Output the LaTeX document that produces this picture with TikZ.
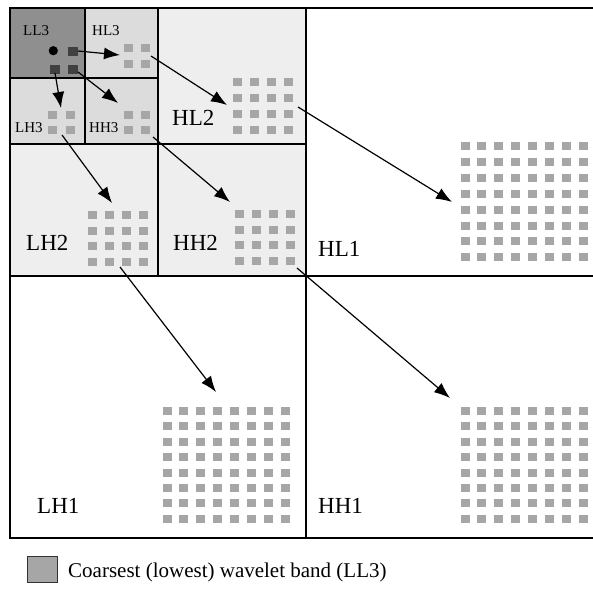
\documentclass[tikz,border=0pt]{standalone}
\usepackage{fontspec}
\setmainfont{Liberation Serif}
\usetikzlibrary{arrows.meta}

\definecolor{bandthree}{HTML}{8F8F8F}
\definecolor{detailthree}{HTML}{DCDCDC}
\definecolor{detailtwo}{HTML}{EEEEEE}
\definecolor{coef}{HTML}{A6A6A6}
\definecolor{darkcoef}{HTML}{404040}

\tikzset{
  frame/.style={draw=black, line width=1.4pt},
  link/.style={draw=black, line width=1.2pt, -{Latex[length=16pt,width=12pt]}},
  bigtxt/.style={font=\fontsize{23}{26}\selectfont, inner sep=0pt, anchor=base west},
  smalltxt/.style={font=\fontsize{15}{17}\selectfont, inner sep=0pt, anchor=base west},
  legendtxt/.style={font=\fontsize{21}{24}\selectfont, inner sep=0pt, anchor=base west},
}

% grid of coefficient squares: first centre (#1,#2), steps #3,#4, count #5 x #6
\newcommand\coefgrid[6]{%
  \foreach \ci in {1,...,#5}{%
    \foreach \cj in {1,...,#6}{%
      \fill[coef] ({#1+(\ci-1)*#3-4.5},{#2+(\cj-1)*#4-4}) rectangle ++(9,8);
    }%
  }%
}

\begin{document}
\begin{tikzpicture}[x=1pt,y=-1pt]
\useasboundingbox (0,0) rectangle (593,590);
\clip (0,0) rectangle (593,590);

% sub-band fills
\fill[detailtwo] (10,8) rectangle (306,276);
\fill[white] (158,8) rectangle (600,276);
\fill[white] (10,276) rectangle (600,538);
\fill[detailtwo] (158,8) rectangle (306,144);
\fill[detailtwo] (10,144) rectangle (306,276);
\fill[detailthree] (10,8) rectangle (158,144);
\fill[bandthree] (10,8) rectangle (85,78);

% sub-band borders
\draw[frame] (10,8) rectangle (600,538);
\draw[frame] (306,8) -- (306,538);
\draw[frame] (10,276) -- (600,276);
\draw[frame] (158,8) -- (158,276);
\draw[frame] (10,144) -- (306,144);
\draw[frame] (85,8) -- (85,144);
\draw[frame] (10,78) -- (158,78);

% labels
\node[smalltxt] (lLLthree) at (23,35) {LL3};
\node[smalltxt] (lHLthree) at (92,35) {HL3};
\node[smalltxt] (lLHthree) at (15,132) {LH3};
\node[smalltxt] (lHHthree) at (89,132) {HH3};
\node[bigtxt] (lHLtwo) at (172,125) {HL2};
\node[bigtxt] (lLHtwo) at (26,250) {LH2};
\node[bigtxt] (lHHtwo) at (173,250) {HH2};
\node[bigtxt] (lHLone) at (318,256) {HL1};
\node[bigtxt] (lLHone) at (37,513) {LH1};
\node[bigtxt] (lHHone) at (318,513) {HH1};

% coarsest band: root coefficient and its three children
\fill[black] (53.3,50.7) circle (4.6);
\fill[darkcoef] (68,47) rectangle (78,56);
\fill[darkcoef] (50,64.5) rectangle (60,73.5);
\fill[darkcoef] (68,64.5) rectangle (78,73.5);

% level 3 descendants (2x2)
\coefgrid{128.5}{48}{17}{15.5}{2}{2}
\coefgrid{52.5}{115}{17.5}{15}{2}{2}
\coefgrid{128.5}{115}{17}{15}{2}{2}

% level 2 descendants (4x4)
\coefgrid{237}{82}{17.3}{16}{4}{4}
\coefgrid{92}{215}{17}{15.7}{4}{4}
\coefgrid{239}{214}{17}{15.7}{4}{4}

% level 1 descendants (8x8)
\coefgrid{465}{146}{16.9}{15.9}{8}{8}
\coefgrid{167}{411}{16.9}{15.4}{8}{8}
\coefgrid{465}{411}{16.9}{15.4}{8}{8}

% connector end points
\coordinate (rA) at (78,51);
\coordinate (rB) at (55,73);
\coordinate (rC) at (78,72);
\coordinate (hlthreeIn) at (120,55);
\coordinate (lhthreeIn) at (61,108);
\coordinate (hhthreeIn) at (118,103);
\coordinate (hlthreeOut) at (151,56);
\coordinate (lhthreeOut) at (62,135);
\coordinate (hhthreeOut) at (153,137);
\coordinate (hltwoIn) at (227,105);
\coordinate (lhtwoIn) at (112,203);
\coordinate (hhtwoIn) at (230,202);
\coordinate (hltwoOut) at (298,107);
\coordinate (lhtwoOut) at (120,267);
\coordinate (hhtwoOut) at (297,268);
\coordinate (hloneIn) at (452,202);
\coordinate (lhoneIn) at (216,392);
\coordinate (hhoneIn) at (450,398);

% parent-child links
\draw[link] (rA) -- (hlthreeIn);
\draw[link] (rB) -- (lhthreeIn);
\draw[link] (rC) -- (hhthreeIn);
\draw[link] (hlthreeOut) -- (hltwoIn);
\draw[link] (lhthreeOut) -- (lhtwoIn);
\draw[link] (hhthreeOut) -- (hhtwoIn);
\draw[link] (hltwoOut) -- (hloneIn);
\draw[link] (lhtwoOut) -- (lhoneIn);
\draw[link] (hhtwoOut) -- (hhoneIn);

% legend
\node[draw=black!80, line width=0.8pt, fill=coef, minimum width=30pt, minimum height=26pt, inner sep=0pt] (legbox) at (42,569) {};
\node[legendtxt] (legtxt) at (68,577) {Coarsest (lowest) wavelet band (LL3)};
\end{tikzpicture}
\end{document}
